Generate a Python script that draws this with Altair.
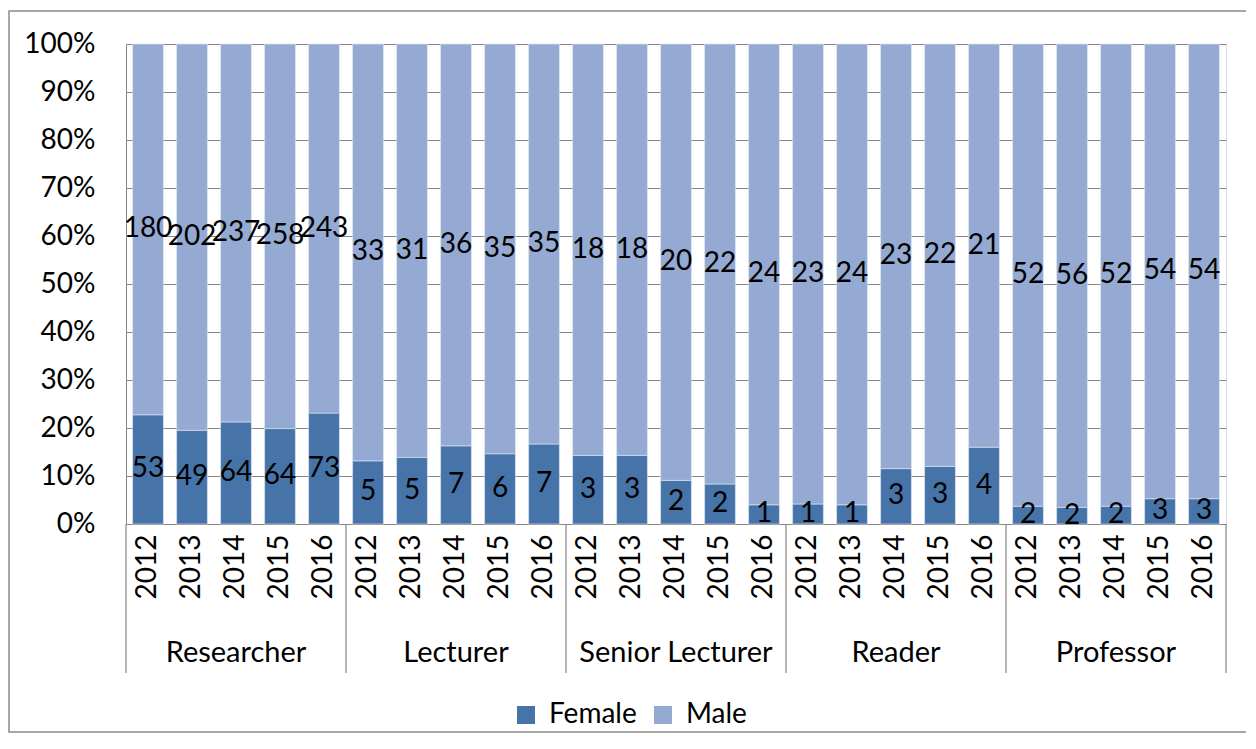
import altair as alt
import pandas as pd

groups = ["Researcher", "Lecturer", "Senior Lecturer", "Reader", "Professor"]
years = ["2012", "2013", "2014", "2015", "2016"]
female = [53, 49, 64, 64, 73, 5, 5, 7, 6, 7, 3, 3, 2, 2, 1, 1, 1, 3, 3, 4, 2, 2, 2, 3, 3]
male = [180, 202, 237, 258, 243, 33, 31, 36, 35, 35, 18, 18, 20, 22, 24,
        23, 24, 23, 22, 21, 52, 56, 52, 54, 54]

FEMALE_C = "#4673A8"
MALE_C = "#94AAD2"
GRID_C = "#878787"
FONT = "Lato"
FS = 28

keys = [f"{g}|{y}" for g in groups for y in years]
rows = []
for i, k in enumerate(keys):
    rows.append({"key": k, "gender": "Female", "order": 0, "count": female[i]})
    rows.append({"key": k, "gender": "Male", "order": 1, "count": male[i]})
df = pd.DataFrame(rows)

grp_df = pd.DataFrame({"key": [f"{g}|2014" for g in groups], "label": groups})
sep_df = pd.DataFrame({"key": [f"{g}|2012" for g in groups]})
sep_end_df = pd.DataFrame({"key": [f"{groups[-1]}|2016"]})

W, H = 1100, 480

xscale = alt.Scale(domain=keys, paddingInner=0, paddingOuter=0)

base = alt.Chart(df).transform_stack(
    stack="count", as_=["y0", "y1"], groupby=["key"],
    sort=[alt.SortField("order", order="ascending")], offset="normalize"
).transform_calculate(ymid="(datum.y0 + datum.y1) / 2")

bars = base.mark_bar(width=alt.RelativeBandSize(0.7), stroke="#dfe6f2", strokeWidth=0.6).encode(
    x=alt.X("key:N", scale=xscale, sort=keys,
            axis=alt.Axis(title=None, labelExpr="split(datum.value, '|')[1]",
                          labelAngle=270, labelPadding=10, ticks=False,
                          domainColor=GRID_C, labelFont=FONT, labelFontSize=FS,
                          labelColor="black")),
    y=alt.Y("y0:Q", scale=alt.Scale(domain=[0, 1], nice=False),
            axis=alt.Axis(title=None, format=".0%",
                          values=[i / 10 for i in range(11)], grid=True,
                          gridColor=GRID_C, domainColor=GRID_C, ticks=False,
                          labelPadding=31, labelFont=FONT, labelFontSize=FS,
                          labelColor="black")),
    y2="y1:Q",
    color=alt.Color("gender:N",
                    scale=alt.Scale(domain=["Female", "Male"], range=[FEMALE_C, MALE_C]),
                    legend=alt.Legend(title=None, orient="none", direction="horizontal",
                                      legendX=386, legendY=657, symbolType="square",
                                      symbolSize=324, symbolStrokeWidth=0,
                                      labelFont=FONT, labelFontSize=FS, labelColor="black",
                                      labelOffset=9, columnPadding=12)),
    order=alt.Order("order:Q"),
)

labels = base.mark_text(font=FONT, fontSize=FS, color="black", baseline="middle").encode(
    x=alt.X("key:N", scale=xscale, sort=keys),
    y=alt.Y("ymid:Q"),
    text="count:Q",
)

seps = alt.Chart(sep_df).mark_rule(color=GRID_C, strokeWidth=1.2).encode(
    x=alt.X("key:N", scale=xscale, sort=keys, bandPosition=0),
    y=alt.value(H), y2=alt.value(H + 149),
)
sep_end = alt.Chart(sep_end_df).mark_rule(color=GRID_C, strokeWidth=1.2).encode(
    x=alt.X("key:N", scale=xscale, sort=keys, bandPosition=1),
    y=alt.value(H), y2=alt.value(H + 149),
)

grp_labels = alt.Chart(grp_df).mark_text(font=FONT, fontSize=29, color="black",
                                         baseline="middle").encode(
    x=alt.X("key:N", scale=xscale, sort=keys),
    y=alt.value(H + 129),
    text="label:N",
)

frame = alt.Chart(pd.DataFrame({"a": [0]})).mark_rect(
    fill=None, stroke="#8a8a8a", strokeWidth=1.5).encode(
    x=alt.value(-117), x2=alt.value(1121), y=alt.value(-33), y2=alt.value(688),
)

chart = alt.layer(frame, bars, labels, seps, sep_end, grp_labels).properties(
    width=W, height=H,
    autosize=alt.AutoSizeParams(type="none"),
    padding={"left": 118, "top": 36, "right": 20, "bottom": 215},
).configure_view(stroke=None).configure(background="white")

chart.save("out.html", embed_options={"renderer": "svg", "actions": False})
